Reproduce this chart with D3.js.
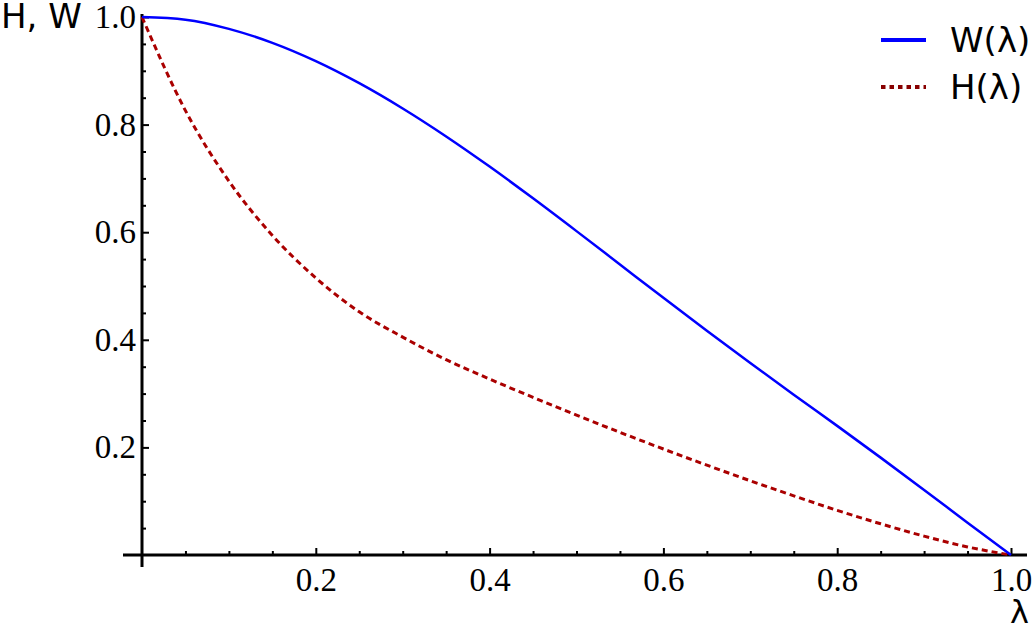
<!DOCTYPE html>
<html>
  <head>
    <meta charset="utf-8">
    <script src="https://cdn.jsdelivr.net/npm/d3@7"></script>
    <style>
      body { margin: 0; background: #fff; }
      svg { display: block; }
    </style>
  </head>
  <body>
    <div id="chart"></div>
    <script>
      // values
      const lambdas = [0, 0.05, 0.1, 0.15, 0.2, 0.25, 0.3, 0.35, 0.4, 0.45, 0.5,
                       0.55, 0.6, 0.65, 0.7, 0.75, 0.8, 0.85, 0.9, 0.95, 1.0];
      const wValues = [1.0, 0.995, 0.978, 0.952, 0.918, 0.877, 0.83, 0.778, 0.722, 0.663, 0.602,
                       0.54, 0.478, 0.417, 0.357, 0.298, 0.24, 0.181, 0.121, 0.06, 0.0];
      const hValues = [1.0, 0.826, 0.695, 0.594, 0.515, 0.452, 0.405, 0.363, 0.327, 0.293, 0.26,
                       0.228, 0.197, 0.167, 0.138, 0.11, 0.083, 0.058, 0.035, 0.015, 0.0];
      const majorTicks = [0.2, 0.4, 0.6, 0.8, 1.0];
      const minorTicks = [0.05, 0.1, 0.15, 0.25, 0.3, 0.35, 0.45, 0.5, 0.55,
                          0.65, 0.7, 0.75, 0.85, 0.9, 0.95];
      const legendItems = ["W(λ)", "H(λ)"];

      const width = 1034, height = 630;
      const svg = d3.select("#chart").append("svg")
        .attr("width", width)
        .attr("height", height);

      const x = d3.scaleLinear([0, 1], [142, 1011]);
      const y = d3.scaleLinear([0, 1], [555, 17]);

      const serif = "'Liberation Serif', 'Times New Roman', serif";
      const sans = "'DejaVu Sans', sans-serif";

      // minor ticks
      svg.append("g")
        .attr("transform", `translate(0,${y(0)})`)
        .call(d3.axisBottom(x).tickValues(minorTicks).tickSize(-4).tickFormat(""))
        .call(g => g.select(".domain").remove());
      svg.append("g")
        .attr("transform", `translate(${x(0)},0)`)
        .call(d3.axisLeft(y).tickValues(minorTicks).tickSize(-4).tickFormat(""))
        .call(g => g.select(".domain").remove());

      // major ticks + labels
      svg.append("g")
        .attr("transform", `translate(0,${y(0)})`)
        .call(d3.axisBottom(x).tickValues(majorTicks).tickSize(-7).tickPadding(13)
          .tickFormat(d3.format(".1f")))
        .call(g => g.select(".domain").remove());
      svg.append("g")
        .attr("transform", `translate(${x(0)},0)`)
        .call(d3.axisLeft(y).tickValues(majorTicks).tickSize(-7).tickPadding(6)
          .tickFormat(d3.format(".1f")))
        .call(g => g.select(".domain").remove());

      svg.selectAll(".tick line").attr("stroke", "#000").attr("stroke-width", 2);
      svg.selectAll(".tick text")
        .attr("font-family", serif)
        .attr("font-size", 33)
        .attr("fill", "#000");

      // axis lines
      svg.append("line")
        .attr("x1", x(0) - 19).attr("x2", x(1) + 16)
        .attr("y1", y(0)).attr("y2", y(0))
        .attr("stroke", "#000").attr("stroke-width", 3);
      svg.append("line")
        .attr("x1", x(0)).attr("x2", x(0))
        .attr("y1", y(1) - 3).attr("y2", y(0) + 12)
        .attr("stroke", "#000").attr("stroke-width", 3);

      // curves
      const curveLine = d3.line()
        .x((d, i) => x(lambdas[i]))
        .y(d => y(d))
        .curve(d3.curveMonotoneX);

      svg.append("path")
        .datum(hValues)
        .attr("fill", "none")
        .attr("stroke", "#aa0000")
        .attr("stroke-width", 3)
        .attr("stroke-dasharray", "6,4")
        .attr("d", curveLine);

      svg.append("path")
        .datum(wValues)
        .attr("fill", "none")
        .attr("stroke", "#0000ff")
        .attr("stroke-width", 2.5)
        .attr("d", curveLine);

      // axis titles
      svg.append("text")
        .attr("x", 1).attr("y", 28)
        .attr("font-family", sans).attr("font-size", 34)
        .text("H, W");
      svg.append("text")
        .attr("x", 1010).attr("y", 623)
        .attr("font-family", sans).attr("font-size", 32)
        .text("λ");

      // legend
      const legend = svg.append("g");
      const legendStyles = [
        {color: "#0000ff", dash: null, w: 4},
        {color: "#880000", dash: "4.5,4", w: 4}
      ];
      legendItems.forEach((label, i) => {
        const ly = 40 + i * 47;
        legend.append("line")
          .attr("x1", 881).attr("x2", 926)
          .attr("y1", ly).attr("y2", ly)
          .attr("stroke", legendStyles[i].color)
          .attr("stroke-width", legendStyles[i].w)
          .attr("stroke-dasharray", legendStyles[i].dash);
        legend.append("text")
          .attr("x", 950).attr("y", ly + 12)
          .attr("font-family", sans).attr("font-size", 34)
          .text(label);
      });
    </script>
  </body>
</html>
